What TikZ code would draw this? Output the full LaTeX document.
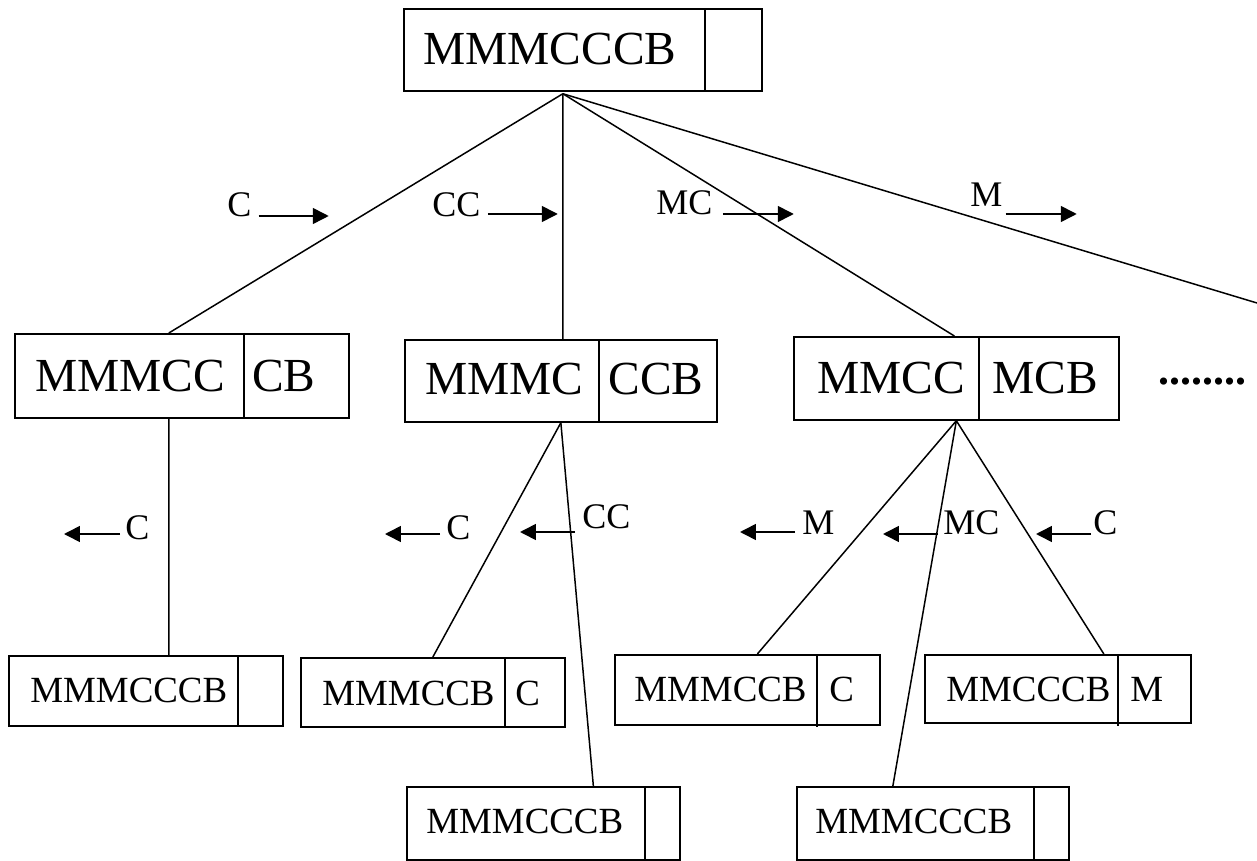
\documentclass[tikz,border=0pt]{standalone}
\usepackage{fontspec}
\setmainfont{Liberation Serif}
\usetikzlibrary{arrows.meta,calc}

\begin{document}
\begin{tikzpicture}[x=0.02cm,y=-0.02cm,
    box/.style={draw,line width=1pt,inner sep=0pt,anchor=north west},
    big/.style={inner sep=0pt,anchor=base west,font=\fontsize{27}{30}\selectfont},
    small/.style={inner sep=0pt,anchor=base west,font=\fontsize{21}{24}\selectfont},
    lbl/.style={inner sep=0pt,anchor=base west,font=\fontsize{20.5}{23}\selectfont},
    edge/.style={line width=0.85pt},
    arr/.style={line width=0.9pt,-{Triangle[length=9pt,width=9pt]}}]
  \useasboundingbox (0,0) rectangle (1257,861);

  % start state
  \node[box,minimum width=7.16cm,minimum height=1.64cm] (s0) at (403,8) {};
  \draw[edge] (705,10) -- (705,90);
  \node[big] (s0l) at (423,65) {MMMCCCB};

  % first moves
  \node[box,minimum width=6.68cm,minimum height=1.68cm] (s1) at (14,333) {};
  \draw[edge] (244,333) -- (244,417);
  \node[big] (s1l) at (35,391) {MMMCC};
  \node[big] (s1r) at (252,391) {CB};

  \node[box,minimum width=6.24cm,minimum height=1.64cm] (s2) at (404,339) {};
  \draw[edge] (599,340) -- (599,421);
  \node[big] (s2l) at (425,395) {MMMC};
  \node[big] (s2r) at (608,395) {CCB};

  \node[box,minimum width=6.5cm,minimum height=1.66cm] (s3) at (793,336) {};
  \draw[edge] (979,336) -- (979,419);
  \node[big] (s3l) at (817,393) {MMCC};
  \node[big] (s3r) at (992,393) {MCB};

  \node[inner sep=0pt,anchor=base west,font=\fontsize{25}{27}\selectfont\bfseries] (dots) at (1158,384) {........};

  % second moves
  \node[box,minimum width=5.48cm,minimum height=1.4cm] (s11) at (8,655) {};
  \draw[edge] (238,655) -- (238,727);
  \node[small] (s11l) at (30,702) {MMMCCCB};

  \node[box,minimum width=5.28cm,minimum height=1.38cm] (s21) at (300,657) {};
  \draw[edge] (505,659) -- (505,726);
  \node[small] (s21l) at (322,705) {MMMCCB};
  \node[small] (s21r) at (515,705) {C};

  \node[box,minimum width=5.46cm,minimum height=1.46cm] (s22) at (406,786) {};
  \draw[edge] (645,786) -- (645,861);
  \node[small] (s22l) at (426,833) {MMMCCCB};

  \node[box,minimum width=5.3cm,minimum height=1.4cm] (s31) at (614,654) {};
  \draw[edge] (817,654) -- (817,727);
  \node[small] (s31l) at (634,701) {MMMCCB};
  \node[small] (s31r) at (829,701) {C};

  \node[box,minimum width=5.44cm,minimum height=1.46cm] (s32) at (796,786) {};
  \draw[edge] (1034,786) -- (1034,861);
  \node[small] (s32l) at (815,833) {MMMCCCB};

  \node[box,minimum width=5.32cm,minimum height=1.36cm] (s33) at (924,654) {};
  \draw[edge] (1118,656) -- (1118,726);
  \node[small] (s33l) at (946,701) {MMCCCB};
  \node[small] (s33r) at (1130,701) {M};

  % branches
  \coordinate (top) at ($(s0.south)+(-20,2)$);
  \coordinate (more) at (1257,303);
  \draw[edge] (top) -- ($(s1.north)+(-13,0)$);
  \draw[edge] (top) -- ($(s2.north)+(2,0)$);
  \draw[edge] (top) -- ($(s3.north)+(-2,0)$);
  \draw[edge] (top) -- (more);

  \draw[edge] ($(s1.south)+(-13,0)$) -- ($(s11.north)+(23,0)$);
  \draw[edge] (s2.south) -- (s21.north);
  \draw[edge] (s2.south) -- ($(s22.north)+(50,0)$);
  \draw[edge] (s3.south) -- ($(s31.north)+(10,0)$);
  \draw[edge] (s3.south) -- ($(s32.north)+(-40,0)$);
  \draw[edge] (s3.south) -- ($(s33.north)+(46,0)$);

  % boat going over
  \node[lbl] (t1) at (227,217) {C};
  \draw[arr] ($(t1.base east)+(7,-1)$) -- ++(70,0);
  \node[lbl] (t2) at (432,217) {CC};
  \draw[arr] ($(t2.base east)+(7,-3)$) -- ++(70,0);
  \node[lbl] (t3) at (656,215) {MC};
  \draw[arr] ($(t3.base east)+(10,-1)$) -- ++(71,0);
  \node[lbl] (t4) at (970,207) {M};
  \draw[arr] ($(t4.base east)+(3,7)$) -- ++(71,0);

  % boat coming back
  \node[lbl] (u1) at (125,539) {C};
  \draw[arr] ($(u1.base west)+(-5,-5)$) -- ++(-56,0);
  \node[lbl] (u2) at (446,539) {C};
  \draw[arr] ($(u2.base west)+(-6,-5)$) -- ++(-55,0);
  \node[lbl] (u3) at (582,528) {CC};
  \draw[arr] ($(u3.base west)+(-7,4)$) -- ++(-55,0);
  \node[lbl] (u4) at (802,534) {M};
  \draw[arr] ($(u4.base west)+(-7,-2)$) -- ++(-55,0);
  \node[lbl] (u5) at (943,534) {MC};
  \draw[arr] ($(u5.base west)+(-5,0)$) -- ++(-55,0);
  \node[lbl] (u6) at (1093,534) {C};
  \draw[arr] ($(u6.base west)+(-2,0)$) -- ++(-55,0);
\end{tikzpicture}
\end{document}
